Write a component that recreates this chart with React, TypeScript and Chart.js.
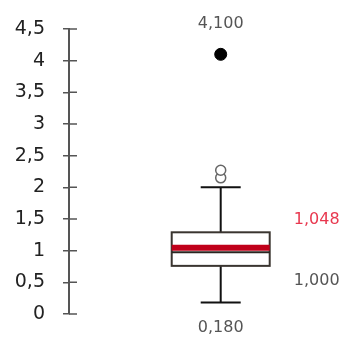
import React, { useEffect, useRef } from 'react';
import { Chart, registerables } from 'chart.js';

Chart.register(...registerables);

// ---- data ----
const categoryX = [1];
const yTickValues = [0, 0.5, 1, 1.5, 2, 2.5, 3, 3.5, 4, 4.5];
const whiskerLow = [0.18];
const quartile1 = [0.76];
const median = [1.0];
const mean = [1.048];
const quartile3 = [1.29];
const whiskerHigh = [2.0];
const mildOutliers = [2.15, 2.27];
const extremeOutliers = [4.1];

const fmt = (v: number, d: number) => v.toFixed(d).replace('.', ',');
const tickFmt = (v: number) => String(v).replace('.', ',');

const BOX_W = 98;
const CAP_W = 40;

const boxPlugin = {
  id: 'boxplot',
  beforeDatasetsDraw(chart: any) {
    const { ctx, scales } = chart;
    const xs = scales.x;
    const ys = scales.y;
    categoryX.forEach((cx, i) => {
      const x = xs.getPixelForValue(cx);
      const yLo = ys.getPixelForValue(whiskerLow[i]);
      const yQ1 = ys.getPixelForValue(quartile1[i]);
      const yMed = ys.getPixelForValue(median[i]);
      const yMean = ys.getPixelForValue(mean[i]);
      const yQ3 = ys.getPixelForValue(quartile3[i]);
      const yHi = ys.getPixelForValue(whiskerHigh[i]);
      ctx.save();
      ctx.strokeStyle = '#111';
      ctx.lineWidth = 2;
      ctx.beginPath();
      ctx.moveTo(x, yLo);
      ctx.lineTo(x, yQ1);
      ctx.moveTo(x, yQ3);
      ctx.lineTo(x, yHi);
      ctx.moveTo(x - CAP_W / 2, yLo);
      ctx.lineTo(x + CAP_W / 2, yLo);
      ctx.moveTo(x - CAP_W / 2, yHi);
      ctx.lineTo(x + CAP_W / 2, yHi);
      ctx.stroke();
      // box
      ctx.fillStyle = '#fff';
      ctx.fillRect(x - BOX_W / 2, yQ3, BOX_W, yQ1 - yQ3);
      ctx.strokeStyle = '#3a3530';
      ctx.lineWidth = 2;
      ctx.strokeRect(x - BOX_W / 2, yQ3, BOX_W, yQ1 - yQ3);
      // median
      ctx.strokeStyle = '#2a2520';
      ctx.lineWidth = 2;
      ctx.beginPath();
      ctx.moveTo(x - BOX_W / 2, yMed + 1.5);
      ctx.lineTo(x + BOX_W / 2, yMed + 1.5);
      ctx.stroke();
      // mean (red)
      ctx.strokeStyle = '#c0001a';
      ctx.lineWidth = 6;
      ctx.beginPath();
      ctx.moveTo(x - BOX_W / 2, yMean);
      ctx.lineTo(x + BOX_W / 2, yMean);
      ctx.stroke();
      // labels
      ctx.font = '16px "DejaVu Sans"';
      ctx.textAlign = 'center';
      ctx.textBaseline = 'middle';
      ctx.fillStyle = '#e8384f';
      ctx.fillText(fmt(mean[i], 3), x + 96, yMean - 28);
      ctx.fillStyle = '#555';
      ctx.fillText(fmt(median[i], 3), x + 96, yMed + 30);
      ctx.fillText(fmt(whiskerLow[i], 3), x, yLo + 25);
      extremeOutliers.forEach((v) => {
        ctx.fillText(fmt(v, 3), x, ys.getPixelForValue(v) - 30);
      });
      ctx.restore();
    });
  },
};

const tickPlugin = {
  id: 'tickCross',
  afterDraw(chart: any) {
    const { ctx, scales, chartArea } = chart;
    const ys = scales.y;
    ctx.save();
    ctx.strokeStyle = '#555';
    ctx.lineWidth = 1.5;
    ctx.beginPath();
    ys.ticks.forEach((t: any) => {
      const y = ys.getPixelForValue(t.value);
      ctx.moveTo(chartArea.left, y);
      ctx.lineTo(chartArea.left + 8, y);
    });
    ctx.stroke();
    ctx.restore();
  },
};

export default function App() {
  const ref = useRef<HTMLCanvasElement>(null);
  useEffect(() => {
    if (!ref.current) return;
    const chart = new Chart(ref.current, {
      type: 'scatter',
      data: {
        datasets: [
          {
            data: mildOutliers.map((v) => ({ x: categoryX[0], y: v })),
            backgroundColor: '#fff',
            borderColor: '#666',
            borderWidth: 1.5,
            pointRadius: 5,
          },
          {
            data: extremeOutliers.map((v) => ({ x: categoryX[0], y: v })),
            backgroundColor: '#000',
            borderColor: '#000',
            borderWidth: 1,
            pointRadius: 6,
          },
        ],
      },
      options: {
        animation: false,
        responsive: true,
        maintainAspectRatio: false,
        layout: { padding: { top: 29, bottom: 24, right: 2, left: 0 } },
        plugins: { legend: { display: false }, tooltip: { enabled: false } },
        scales: {
          x: { type: 'linear', display: false, min: 0, max: 1.76 },
          y: {
            min: 0,
            max: 4.5,
            afterFit: (s: any) => {
              s.width = 69;
              s.paddingTop = 0;
              s.paddingBottom = 0;
            },
            afterBuildTicks: (s: any) => {
              s.ticks = yTickValues.map((v) => ({ value: v }));
            },
            border: { display: true, color: '#555', width: 2 },
            grid: { drawOnChartArea: false, drawTicks: true, tickLength: 6, color: '#555', lineWidth: 1.5 },
            ticks: {
              padding: 18,
              color: '#222',
              font: { family: '"DejaVu Sans"', size: 19 },
              callback: (v: any) => tickFmt(Number(v)),
            },
          },
        },
      },
      plugins: [boxPlugin, tickPlugin],
    });
    return () => chart.destroy();
  }, []);
  return (
    <div style={{ position: 'absolute', left: 0, top: 0, width: 343, height: 338, background: '#fff' }}>
      <canvas ref={ref} />
    </div>
  );
}
